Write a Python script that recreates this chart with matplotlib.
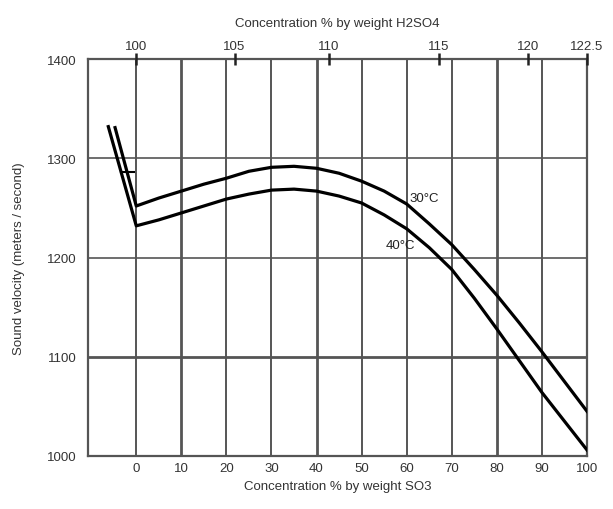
import numpy as np
import matplotlib
matplotlib.use('Agg')
import matplotlib.pyplot as plt

plt.rcParams['font.family'] = ['Liberation Sans', 'DejaVu Sans']

# free SO3 % by weight (bottom axis) and sound velocity (m/s)
so3_30 = [-4.7, 0, 5, 10, 15, 20, 25, 30, 35, 40, 45, 50, 55, 60, 65, 70, 75, 80, 85, 90, 95, 100]
vel_30 = [1331, 1252, 1260, 1267, 1274, 1280, 1287, 1291, 1292, 1290, 1285, 1277, 1267, 1254,
          1234, 1213, 1188, 1162, 1134, 1105, 1075, 1045]

so3_40 = [-6.2, 0, 5, 10, 15, 20, 25, 30, 35, 40, 45, 50, 55, 60, 65, 70, 75, 80, 85, 90, 95, 100]
vel_40 = [1332, 1232, 1238, 1245, 1252, 1259, 1264, 1268, 1269, 1267, 1262, 1255, 1243, 1229,
          1210, 1188, 1159, 1128, 1096, 1064, 1035, 1006]

# small break mark on the steep part
mark_x = [-3.3, -0.4]
mark_y = [1286, 1286]

bottom_ticks = [0, 10, 20, 30, 40, 50, 60, 70, 80, 90, 100]
y_ticks = [1000, 1100, 1200, 1300, 1400]
# H2SO4 equivalent ticks on top, placed where the original shows them
top_pos = [0, 21.8, 42.7, 67.1, 86.9, 100]
top_labels = ['100', '105', '110', '115', '120', '122.5']

fig = plt.figure(figsize=(6.13, 5.10), dpi=100)
ax = fig.add_axes([0.1436, 0.104, 0.814, 0.778])

grid_col = '#555555'
for x in bottom_ticks[:-1]:
    lw = 2.0 if x in (10, 40, 80) else 1.4
    ax.axvline(x, color=grid_col, lw=lw, zorder=1)
for y in (1100, 1200, 1300):
    lw = 2.0 if y == 1100 else 1.2
    ax.axhline(y, color=grid_col, lw=lw, zorder=1)

ax.plot(so3_30, vel_30, color='black', lw=2.3, zorder=3, solid_joinstyle='round')
ax.plot(so3_40, vel_40, color='black', lw=2.3, zorder=3, solid_joinstyle='round')
ax.plot(mark_x, mark_y, color='black', lw=1.5, zorder=3)

ax.text(63.8, 1260, '30°C', fontsize=9.5, ha='center', va='center', color='#222222')
ax.text(58.7, 1213, '40°C', fontsize=9.5, ha='center', va='center', color='#222222')

ax.set_xlim(-10.7, 100)
ax.set_ylim(1000, 1400)
ax.set_xticks(bottom_ticks)
ax.set_yticks(y_ticks)
ax.tick_params(axis='x', length=0, labelsize=9.5, colors='#333333', pad=4)
ax.tick_params(axis='y', length=0, labelsize=9.5, colors='#333333', pad=8)
ax.set_xlabel('Concentration % by weight SO3', fontsize=9.5, color='#333333', labelpad=5)
ax.set_ylabel('Sound velocity (meters / second)', fontsize=9.5, color='#333333', labelpad=16)
for s in ax.spines.values():
    s.set_color('#555555')
    s.set_linewidth(1.6)

top = ax.twiny()
top.set_xlim(ax.get_xlim())
top.set_xticks(top_pos)
top.set_xticklabels(top_labels)
top.tick_params(axis='x', direction='inout', length=9, width=1.8, color='#222222',
                labelsize=9.5, labelcolor='#333333', pad=1)
top.set_xlabel('Concentration % by weight H2SO4', fontsize=9.5, color='#333333', labelpad=10)
for s in top.spines.values():
    s.set_visible(False)

fig.savefig('out.png', dpi=100, facecolor='white')
